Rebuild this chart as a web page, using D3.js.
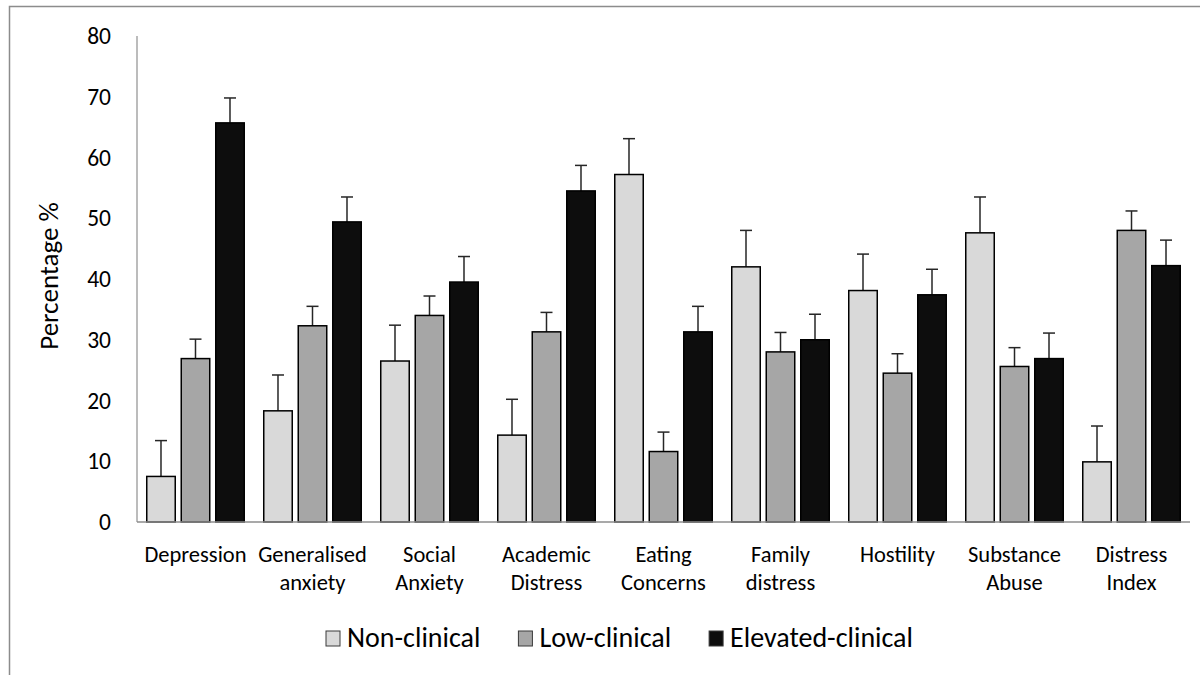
<!DOCTYPE html>
<html>
<head>
<meta charset="utf-8">
<script src="https://cdn.jsdelivr.net/npm/d3@7"></script>
<style>
  body { margin: 0; background: #fff; }
  text { font-family: Carlito, Lato, "Open Sans", sans-serif; fill: #000; }
</style>
</head>
<body>
<script>
var categories = [
  ['Depression'], ['Generalised', 'anxiety'], ['Social', 'Anxiety'],
  ['Academic', 'Distress'], ['Eating', 'Concerns'], ['Family', 'distress'],
  ['Hostility'], ['Substance', 'Abuse'], ['Distress', 'Index']
];
var seriesNames = ['Non-clinical', 'Low-clinical', 'Elevated-clinical'];
var seriesColors = ['#d9d9d9', '#a6a6a6', '#0d0d0d'];

// values and upper error bar ends
var nonClinical = [7.5, 18.3, 26.5, 14.3, 57.2, 42.0, 38.1, 47.6, 9.9];
var nonClinicalErr = [13.4, 24.2, 32.4, 20.2, 63.1, 48.0, 44.1, 53.5, 15.8];
var lowClinical = [26.9, 32.3, 34.0, 31.3, 11.6, 28.0, 24.5, 25.6, 48.0];
var lowClinicalErr = [30.1, 35.5, 37.2, 34.5, 14.8, 31.2, 27.7, 28.7, 51.2];
var elevated = [65.7, 49.4, 39.5, 54.5, 31.3, 30.0, 37.4, 26.9, 42.2];
var elevatedErr = [69.8, 53.5, 43.7, 58.7, 35.5, 34.2, 41.6, 31.1, 46.4];
var yTicks = [0, 10, 20, 30, 40, 50, 60, 70, 80];

var values = [nonClinical, lowClinical, elevated];
var errs = [nonClinicalErr, lowClinicalErr, elevatedErr];

var w = 1200, h = 675;
var svg = d3.select('body').append('svg').attr('width', w).attr('height', h);

// outer chart frame (top and left edges only visible)
svg.append('path')
  .attr('d', 'M9.5,675 V6.5 H1200')
  .attr('fill', 'none').attr('stroke', '#8c8c8c').attr('stroke-width', 1.5);

var names = categories.map(function(c) { return c.join(' '); });
var x0 = d3.scaleBand().domain(names).range([137, 1190])
  .paddingInner(0.1667).paddingOuter(0.0833);
var x1 = d3.scaleBand().domain([0, 1, 2]).range([0, x0.bandwidth()]).paddingInner(0.174);
var y = d3.scaleLinear().domain([0, 80]).range([522, 36]);

// axes lines
svg.append('line').attr('x1', 137).attr('x2', 137).attr('y1', y(80)).attr('y2', y(0))
  .attr('stroke', '#a6a6a6').attr('stroke-width', 1.5);

var yAxis = svg.append('g').attr('transform', 'translate(111,0)')
  .call(d3.axisLeft(y).tickValues(yTicks).tickSize(0).tickPadding(0));
yAxis.select('.domain').remove();
yAxis.selectAll('text').style('font-size', '23.5px')
  .style('font-family', 'Carlito, Lato, "Open Sans", sans-serif');

svg.append('text')
  .attr('transform', 'translate(58,' + y(40.5) + ') rotate(-90)')
  .attr('text-anchor', 'middle')
  .style('font-size', '27px')
  .text('Percentage %');

var groups = svg.selectAll('g.grp').data(names).enter().append('g')
  .attr('class', 'grp')
  .attr('transform', function(d) { return 'translate(' + x0(d) + ',0)'; });

groups.each(function(name, i) {
  var g = d3.select(this);
  for (var s = 0; s < 3; s++) {
    var cx = x1(s) + x1.bandwidth() / 2;
    g.append('line')
      .attr('x1', cx).attr('x2', cx)
      .attr('y1', y(values[s][i])).attr('y2', y(errs[s][i]))
      .attr('stroke', '#262626').attr('stroke-width', 1.5);
    g.append('line')
      .attr('x1', cx - 6).attr('x2', cx + 6)
      .attr('y1', y(errs[s][i])).attr('y2', y(errs[s][i]))
      .attr('stroke', '#262626').attr('stroke-width', 1.5);
    g.append('rect')
      .attr('x', x1(s)).attr('width', x1.bandwidth())
      .attr('y', y(values[s][i])).attr('height', y(0) - y(values[s][i]))
      .attr('fill', seriesColors[s]).attr('stroke', '#000').attr('stroke-width', 1.5);
  }
});

svg.append('line').attr('x1', 137).attr('x2', 1190).attr('y1', y(0)).attr('y2', y(0))
  .attr('stroke', '#8c8c8c').attr('stroke-width', 1.5);

// category labels
categories.forEach(function(lines, i) {
  var t = svg.append('text')
    .attr('x', x0(names[i]) + x0.bandwidth() / 2)
    .attr('y', 562)
    .attr('text-anchor', 'middle')
    .style('font-size', '22.5px');
  lines.forEach(function(l, k) {
    t.append('tspan').attr('x', x0(names[i]) + x0.bandwidth() / 2)
      .attr('dy', k === 0 ? 0 : 28).text(l);
  });
});

// legend
var lx = 326;
seriesNames.forEach(function(n, s) {
  svg.append('rect').attr('x', lx).attr('y', 631).attr('width', 14).attr('height', 15)
    .attr('fill', seriesColors[s]).attr('stroke', '#3a3a3a').attr('stroke-width', 1);
  var t = svg.append('text').attr('x', lx + 21).attr('y', 647)
    .style('font-size', '28px').text(n);
  lx += 21 + t.node().getComputedTextLength() + 38;
});
</script>
</body>
</html>
